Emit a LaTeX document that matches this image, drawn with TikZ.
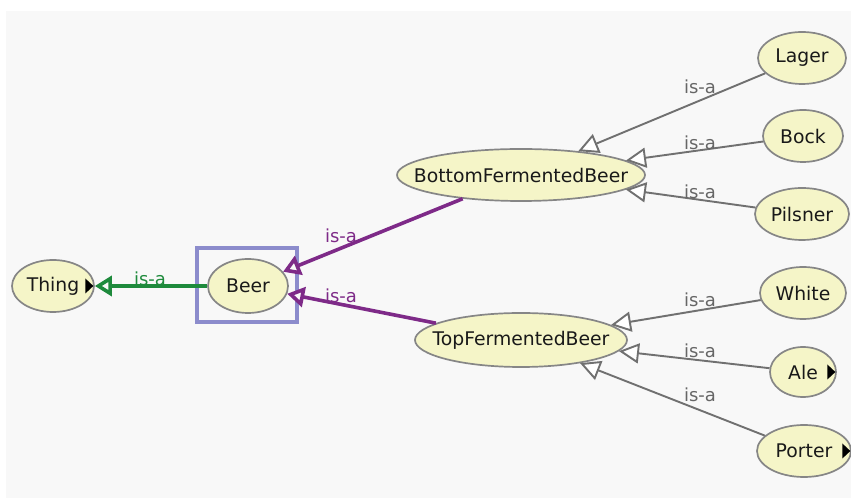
\documentclass[tikz,border=0pt]{standalone}
\usepackage{fontspec}
\setmainfont{DejaVu Sans}
\usetikzlibrary{shapes.geometric,arrows.meta}
\definecolor{bg}{HTML}{F8F8F8}
\definecolor{nodefill}{HTML}{F5F5C8}
\definecolor{nodeline}{HTML}{868686}
\definecolor{edgegray}{HTML}{707070}
\definecolor{lblgray}{HTML}{666666}
\definecolor{isagreen}{HTML}{1E8A3C}
\definecolor{isapurple}{HTML}{7E2A88}
\definecolor{boxblue}{HTML}{8C8CCC}
\begin{document}
\begin{tikzpicture}[x=1pt,y=1pt,
  ent/.style 2 args={ellipse, draw=nodeline, fill=nodefill, line width=1.7pt, inner sep=0pt,
    minimum width=#1pt, minimum height=#2pt, font=\fontsize{18.8}{22}\selectfont, text=black!90},
  lbl/.style={font=\fontsize{18}{21}\selectfont, inner sep=0pt},
  subedge/.style={draw=edgegray, line width=1.9pt, -{Triangle[length=20pt,width=20pt,fill=white]}},
  isap/.style={draw=isapurple, line width=3.6pt, -{Triangle[length=17pt,width=20pt,fill=bg]}},
  isag/.style={draw=isagreen, line width=3.6pt, -{Triangle[length=17pt,width=20pt,fill=bg]}},
  more/.style={fill=black}
]
\useasboundingbox (0,0) rectangle (851,500);
\fill[bg] (6,2) rectangle (851,489);

% nodes
\node[ent={82}{52}] (thing) at (53,214) {\makebox[0pt]{Thing}};
\node[ent={80}{54}] (beer) at (248,214) {\makebox[0pt]{Beer}};
\node[draw=boxblue, line width=4.5pt, minimum width=100pt, minimum height=74pt, inner sep=0pt] (sel) at (247,215) {};
\node[ent={248}{52}] (bfb) at (521,325) {\makebox[0pt]{BottomFermentedBeer}};
\node[ent={212}{54}] (tfb) at (521,160) {\makebox[0pt]{TopFermentedBeer}};
\node[ent={88}{52}] (lager) at (802,442) {\makebox[0pt]{Lager}};
\node[ent={80}{52}] (bock) at (803,364) {\makebox[0pt]{Bock}};
\node[ent={94}{52}] (pilsner) at (802,286) {\makebox[0pt]{Pilsner}};
\node[ent={86}{52}] (white) at (803,207) {\makebox[0pt]{White}};
\node[ent={66}{50}] (ale) at (803,128) {\makebox[0pt]{Ale}};
\node[ent={94}{52}] (porter) at (804,49) {\makebox[0pt]{Porter}};

% expansion markers
\fill[more] (thing.east) ++(-1.5,0) -- ++(-8,7.5) -- ++(0,-15) -- cycle;
\fill[more] (ale.east) ++(-1.5,0) -- ++(-8,7.5) -- ++(0,-15) -- cycle;
\fill[more] (porter.east) ++(-1.5,0) -- ++(-8,7.5) -- ++(0,-15) -- cycle;

% connectors
\draw[subedge] (lager) -- (bfb);
\draw[subedge] (bock) -- (bfb);
\draw[subedge] (pilsner) -- (bfb);
\draw[subedge] (white) -- (tfb);
\draw[subedge] (ale) -- (tfb);
\draw[subedge] (porter) -- (tfb);
\draw[isap] (bfb) -- (beer);
\draw[isap] (tfb) -- (beer);
\draw[isag] (beer) -- (thing);

% labels
\node[lbl, text=isagreen] (lthing) at (150,221) {is-a};
\node[lbl, text=isapurple] (lbfb) at (341,264) {is-a};
\node[lbl, text=isapurple] (ltfb) at (341,204) {is-a};
\node[lbl, text=lblgray] (llager) at (700,413) {is-a};
\node[lbl, text=lblgray] (lbock) at (700,357) {is-a};
\node[lbl, text=lblgray] (lpilsner) at (700,308) {is-a};
\node[lbl, text=lblgray] (lwhite) at (700,200) {is-a};
\node[lbl, text=lblgray] (lale) at (700,149) {is-a};
\node[lbl, text=lblgray] (lporter) at (700,105) {is-a};
\end{tikzpicture}
\end{document}
